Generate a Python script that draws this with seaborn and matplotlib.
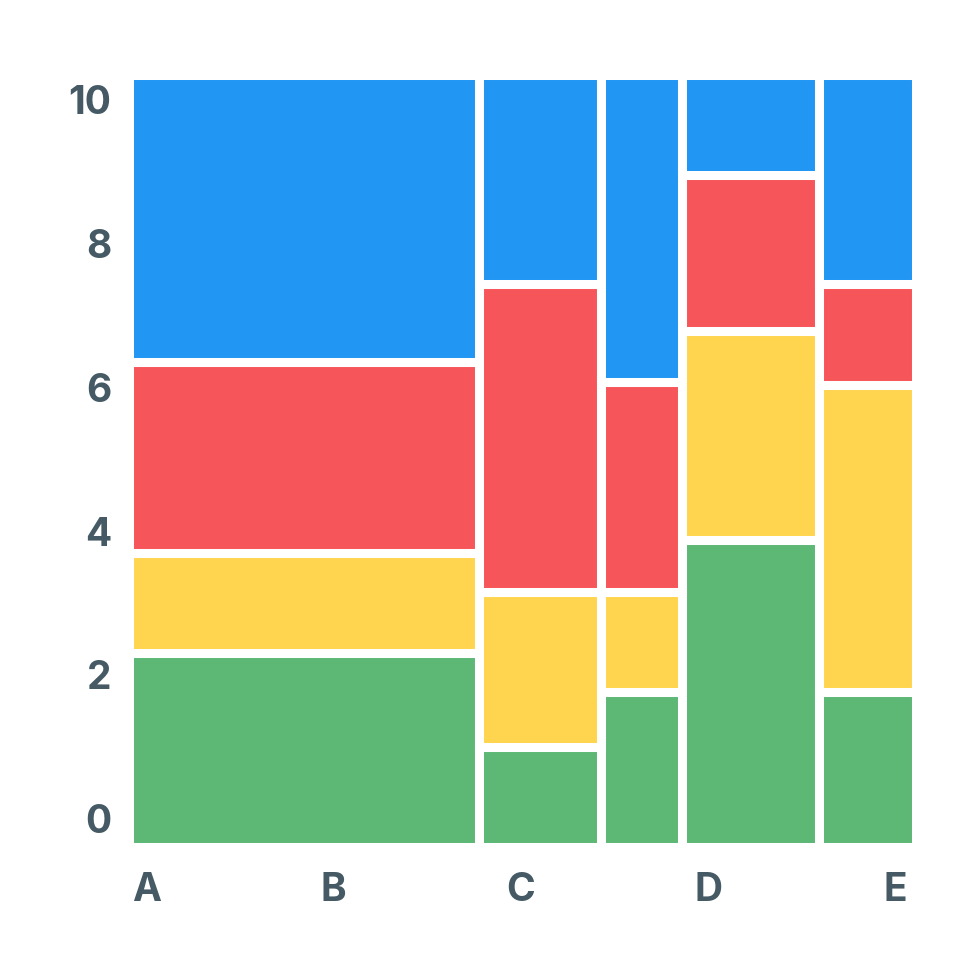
import numpy as np
import pandas as pd
import seaborn as sns
import matplotlib.pyplot as plt

# Column widths (share of the total width) and segment heights, bottom to top
columns = ["A", "B", "C", "D", "E"]
col_widths = [44.55, 15.45, 10.3, 17.45, 12.25]
green = [2.51, 1.30, 2.01, 3.98, 2.01]
yellow = [1.30, 2.01, 1.30, 2.71, 3.98]
red = [2.47, 3.98, 2.72, 2.02, 1.30]
blue = [3.72, 2.71, 3.97, 1.29, 2.71]

x_labels = ["A", "B", "C", "D", "E"]
y_labels = ["0", "2", "4", "6", "8", "10"]

TEXT_COLOR = "#455A64"
COLORS = {"green": "#5DB775", "yellow": "#FFD54F", "red": "#F6565A", "blue": "#2196F3"}

sns.set_theme(style="white")
plt.rcParams["font.family"] = ["Inter", "DejaVu Sans"]

# Long table: one row per rectangle, weights give the height
edges = np.concatenate([[0], np.cumsum(col_widths)])
mids = (edges[:-1] + edges[1:]) / 2
rows = []
for name, values in [("green", green), ("yellow", yellow), ("red", red), ("blue", blue)]:
    for mid, value in zip(mids, values):
        rows.append({"x": mid, "segment": name, "value": value})
df = pd.DataFrame(rows)

fig = plt.figure(figsize=(9.8, 9.8), dpi=100)
ax = fig.add_axes([128.5 / 980, 1 - 847.2 / 980, 787 / 980, 772 / 980])

sns.histplot(
    data=df, x="x", weights="value", hue="segment", bins=edges.tolist(),
    hue_order=["blue", "red", "yellow", "green"], palette=COLORS,
    multiple="stack", alpha=1, edgecolor="white", linewidth=6.5,
    legend=False, ax=ax,
)

ax.set_xlim(0, edges[-1])
ax.set_ylim(0, 10)
ax.set_xlabel("")
ax.set_ylabel("")
sns.despine(ax=ax, left=True, bottom=True)

# Labels sit inset from the column and stack ends, evenly spaced
ax.set_xticks(np.linspace(2.25, 97.43, 5))
ax.set_xticklabels(x_labels)
ax.set_yticks(np.linspace(0.37, 9.68, 6))
ax.set_yticklabels(y_labels)
ax.tick_params(axis="both", length=0, labelsize=28, labelcolor=TEXT_COLOR)
ax.tick_params(axis="x", pad=17.5)
ax.tick_params(axis="y", pad=12.5)
for label in ax.get_xticklabels() + ax.get_yticklabels():
    label.set_fontweight("bold")

fig.savefig("out.png", dpi=100, facecolor="white")
